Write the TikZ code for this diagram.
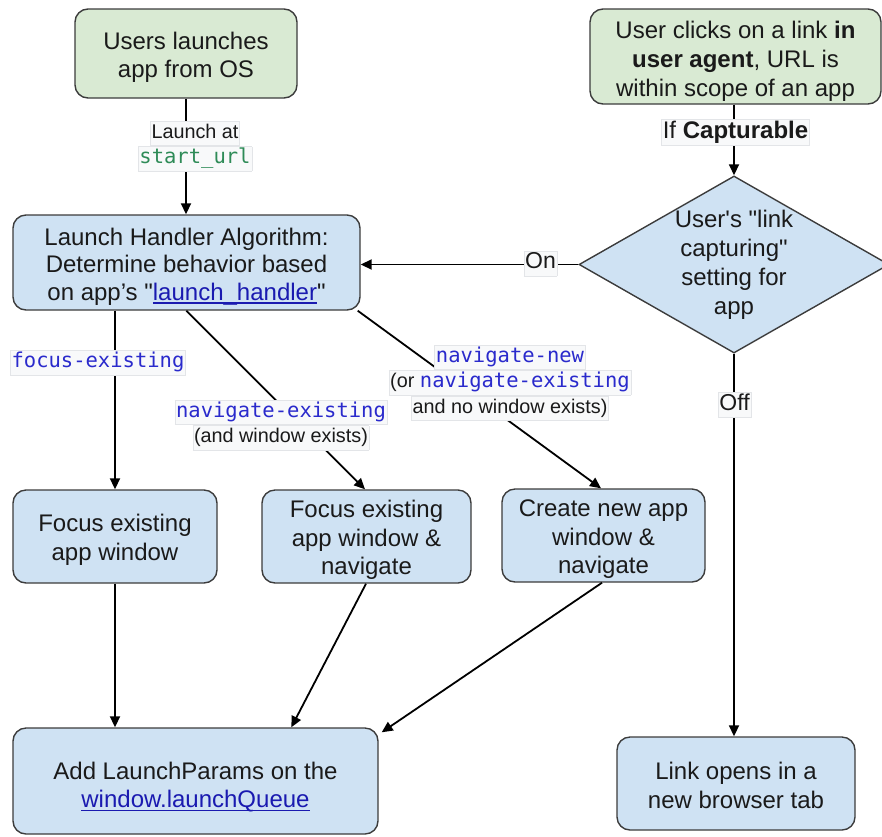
\documentclass[tikz,border=0pt]{standalone}
\usepackage{fontspec}
\setmainfont{Liberation Sans}[Ligatures=TeXOff]
\setmonofont{DejaVu Sans Mono}
\usetikzlibrary{shapes.geometric,arrows.meta,calc}
\definecolor{gfill}{HTML}{D9EAD3}
\definecolor{bfill}{HTML}{CFE2F3}
\definecolor{edgec}{HTML}{3C3C3C}
\definecolor{txt}{HTML}{1A1A1A}
\definecolor{codeblue}{HTML}{2A2ACC}
\definecolor{codegreen}{HTML}{2E8B57}
\definecolor{linkc}{HTML}{1A1AB0}
\definecolor{lblbg}{HTML}{F8F9FA}
\definecolor{lbledge}{HTML}{E3E5E8}
\newcommand\mainfs{\fontsize{24}{28.5}\selectfont}
\newcommand\lblfs{\fontsize{19.8}{25.5}\selectfont}
\newcommand\cde[2][codeblue]{{\fontsize{20.5}{25.5}\selectfont\ttfamily\color{#1}#2}}
\newcommand\lb[1]{{\setlength\fboxsep{1pt}\setlength\fboxrule{0.5pt}\fcolorbox{lbledge}{lblbg}{\rule[-6pt]{0pt}{22pt}#1}}}
\newcommand\lnk[1]{{\color{linkc}\setbox0=\hbox{#1}\rlap{\rule[-3.5pt]{\wd0}{1.3pt}}\box0}}
\newcommand\tg[1][25]{\rule{0pt}{#1pt}}
\begin{document}
\begin{tikzpicture}[x=1pt,y=-1pt,
  box/.style={draw=edgec, line width=1.4pt, rounded corners=13pt, align=center,
    font=\mainfs, text=txt, inner sep=0pt},
  gbox/.style={box, fill=gfill},
  bbox/.style={box, fill=bfill},
  dia/.style={diamond, aspect=1.75, draw=edgec, fill=bfill, line width=1.4pt,
    inner sep=0pt, minimum width=310pt, minimum height=177pt, align=center,
    font=\fontsize{24}{29}\selectfont, text=txt},
  arr/.style={line width=1.8pt, black, -{Triangle[length=11pt,width=10pt]}},
  lbl/.style={align=center, font=\lblfs, text=txt, inner sep=0pt}]
\useasboundingbox (0,0) rectangle (882,836);

% boxes
\node[gbox, minimum width=222pt, minimum height=89pt] (g1) at (186,53.5)
  {\tg[25]Users launches\\app from OS};
\node[bbox, minimum width=347pt, minimum height=95pt, font=\fontsize{24}{27.5}\selectfont] (lh) at (186.5,262.5)
  {\tg[25]Launch Handler Algorithm:\\Determine behavior based\\on app’s "\lnk{launch\_handler}"};
\node[gbox, minimum width=291pt, minimum height=95pt, font=\fontsize{24}{29}\selectfont] (g2) at (735.5,56.5)
  {\tg[26]User clicks on a link \textbf{in}\\\textbf{user agent}, URL is\\within scope of an app};
\node[dia] (dec) at (734,264.5) {User's "link\\capturing"\\setting for\\app};
\node[bbox, minimum width=204pt, minimum height=93pt] (f1) at (115,536.5)
  {\tg[24]Focus existing\\app window};
\node[bbox, minimum width=209pt, minimum height=93pt] (f2) at (366.5,536.5)
  {\tg[24]Focus existing\\app window \&\\navigate};
\node[bbox, minimum width=203pt, minimum height=93pt] (f3) at (603.5,535.5)
  {\tg[24]Create new app\\window \&\\navigate};
\node[bbox, minimum width=365pt, minimum height=106pt] (add) at (195.5,781)
  {\tg[29.5]Add LaunchParams on the\\\lnk{window.launchQueue}};
\node[bbox, minimum width=238pt, minimum height=93pt, font=\fontsize{24}{29}\selectfont] (lnk) at (736,783.5)
  {\tg[21.5]Link opens in a\\new browser tab};

% connectors
\draw[arr] (g1.south) -- (g1.south |- lh.north);
\draw[arr] (dec.north |- g2.south) -- (dec.north);
\draw[arr] (dec.west) -- (dec.west -| lh.east);
\draw[arr] (dec.south) -- (dec.south |- lnk.north);
\draw[arr] (lh.south -| f1.north) -- (f1.north);
\draw[arr] ($(lh.south west)+(174,0)$) -- ($(f2.north)+(-1.5,0)$);
\draw[arr] ($(lh.south east)+(-3,0)$) -- ($(f3.north)+(-2.5,0)$);
\draw[arr] (f1.south) -- (f1.south |- add.north);
\draw[arr] ($(f2.south)+(-0.5,0)$) -- ($(add.north west)+(279,0)$);
\draw[arr] ($(f3.south)+(-1.5,0)$) -- ($(add.north east)+(3,5)$);

% labels
\node[lbl] (lA) at (195,146) {\lb{Launch at}\\\lb{\cde[codegreen]{start\_url}}};
\node[lbl, font=\fontsize{24}{28}\selectfont] (lC) at (735.5,132.5) {\lb{If \textbf{Capturable}}};
\node[lbl, font=\fontsize{23}{28}\selectfont] (lOn) at (540.5,263.5) {\lb{On}};
\node[lbl, font=\fontsize{23}{28}\selectfont] (lOff) at (734.5,405) {\lb{Off}};
\node[lbl] (lF) at (98,362.5) {\lb{\cde{focus-existing}}};
\node[lbl] (lNE) at (281,425) {\lb{\cde{navigate-existing}}\\\lb{(and window exists)}};
\node[lbl] (lNN) at (510,382.5) {\lb{\cde{navigate-new}}\\\lb{(or \cde{navigate-existing}}\\\lb{and no window exists)}};
\end{tikzpicture}
\end{document}
